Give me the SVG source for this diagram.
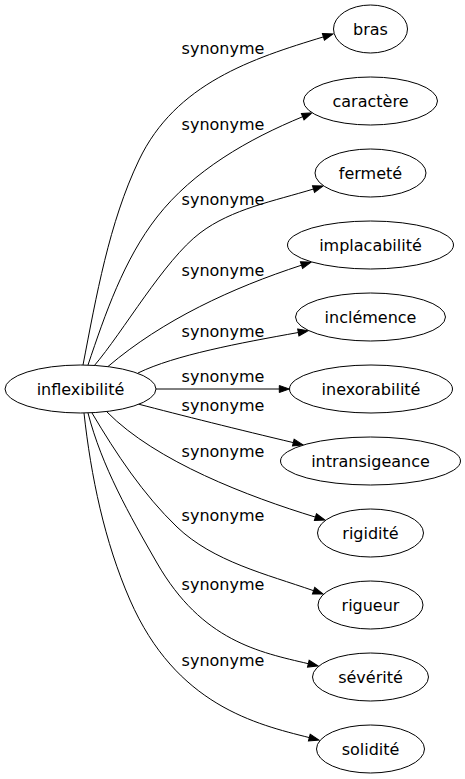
<svg xmlns="http://www.w3.org/2000/svg" width="465" height="779" viewBox="0 0 465 779">
<style>
  .node ellipse { fill: #ffffff; stroke: #000000; stroke-width: 1; }
  .node text { font-family: "DejaVu Sans", Verdana, sans-serif; font-size: 16px; fill: #000000; text-anchor: middle; }
  .edge path { fill: none; stroke: #000000; stroke-width: 1; marker-end: url(#arrow); }
  .edge text { font-family: "DejaVu Sans", Verdana, sans-serif; font-size: 16px; fill: #000000; text-anchor: middle; }
</style>
<defs>
  <marker id="arrow" markerUnits="userSpaceOnUse" markerWidth="12" markerHeight="9" refX="0" refY="3.5" orient="auto" overflow="visible">
    <path d="M0,0 L10,3.5 L0,7 Z" fill="#000000" stroke="#000000" stroke-width="1"/>
  </marker>
</defs>
<rect x="0" y="0" width="465" height="779" fill="#ffffff"/>
<g id="connectors">
  <g class="edge" id="e-bras"><path d="M83,365 C96.3,296.4 108.9,223 139,160 C175.6,83.5 252.2,58.5 323.4,36.9"/><text x="223" y="53.5">synonyme</text></g>
  <g class="edge" id="e-caractere"><path d="M88,365 C105.3,313.7 123.8,259.6 157,217 C193.3,170.5 248.3,139.1 302.7,116.7"/><text x="223" y="129.5">synonyme</text></g>
  <g class="edge" id="e-fermete"><path d="M94,366 C123.3,331.8 164.1,260.2 200,233 C231.9,208.8 274.4,201 313.5,189"/><text x="223" y="205">synonyme</text></g>
  <g class="edge" id="e-implacabilite"><path d="M108,366.5 C162.7,319.9 232.2,287.8 301.5,265.2"/><text x="223" y="276">synonyme</text></g>
  <g class="edge" id="e-inclemence"><path d="M138,373 C175,355 240,343 298.3,332.5"/><text x="223" y="336.5">synonyme</text></g>
  <g class="edge" id="e-inexorabilite"><path d="M155.5,389 L279.3,389"/><text x="223" y="382">synonyme</text></g>
  <g class="edge" id="e-intransigeance"><path d="M138,404 C180,415 240,430 293.3,442.6"/><text x="223" y="410.5">synonyme</text></g>
  <g class="edge" id="e-rigidite"><path d="M107,412 C156,461.7 248.5,496.6 315.4,517.1"/><text x="223" y="457">synonyme</text></g>
  <g class="edge" id="e-rigueur"><path d="M92,413 C116,453.4 143.2,494.6 177,527 C213,561.5 266.4,574.2 313.6,590.7"/><text x="223" y="521">synonyme</text></g>
  <g class="edge" id="e-severite"><path d="M88,413 C101.75,466.4 129.5,515.1 157,563 C202,641.3 259.6,652.2 308.3,663.7"/><text x="223" y="590">synonyme</text></g>
  <g class="edge" id="e-solidite"><path d="M84,413 C91,476.4 104.4,541.4 130,600 C176,705.3 256,724.2 309.3,737.6"/><text x="223" y="666">synonyme</text></g>
</g>
<g id="n-inflexibilite" class="node"><ellipse cx="80.5" cy="389" rx="75.5" ry="24"/><text x="80.5" y="394.5">inflexibilité</text></g>
<g id="n-bras" class="node"><ellipse cx="370.5" cy="29" rx="37" ry="24"/><text x="370.5" y="34.5">bras</text></g>
<g id="n-caractere" class="node"><ellipse cx="370.5" cy="101" rx="67" ry="24"/><text x="370.5" y="106.5">caractère</text></g>
<g id="n-fermete" class="node"><ellipse cx="370.5" cy="173" rx="55.5" ry="24"/><text x="370.5" y="178.5">fermeté</text></g>
<g id="n-implacabilite" class="node"><ellipse cx="370.5" cy="245" rx="83" ry="24"/><text x="370.5" y="250.5">implacabilité</text></g>
<g id="n-inclemence" class="node"><ellipse cx="370.5" cy="317" rx="75" ry="24"/><text x="370.5" y="322.5">inclémence</text></g>
<g id="n-inexorabilite" class="node"><ellipse cx="371" cy="389" rx="81.5" ry="24"/><text x="371" y="394.5">inexorabilité</text></g>
<g id="n-intransigeance" class="node"><ellipse cx="370.5" cy="461" rx="90" ry="24"/><text x="370.5" y="466.5">intransigeance</text></g>
<g id="n-rigidite" class="node"><ellipse cx="370.5" cy="533" rx="53" ry="24"/><text x="370.5" y="538.5">rigidité</text></g>
<g id="n-rigueur" class="node"><ellipse cx="370.5" cy="605" rx="52.5" ry="24"/><text x="370.5" y="610.5">rigueur</text></g>
<g id="n-severite" class="node"><ellipse cx="370.5" cy="677" rx="58" ry="24"/><text x="370.5" y="682.5">sévérité</text></g>
<g id="n-solidite" class="node"><ellipse cx="370.5" cy="749" rx="54" ry="24"/><text x="370.5" y="754.5">solidité</text></g>
</svg>
